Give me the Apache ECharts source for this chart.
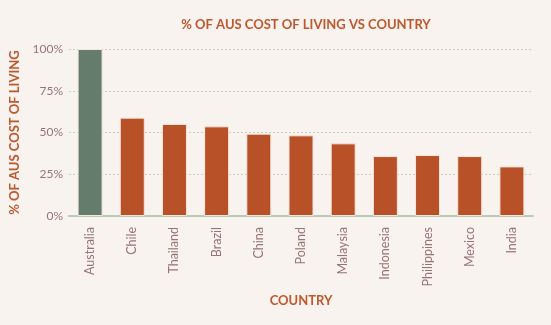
<!DOCTYPE html>
<html><head><meta charset="utf-8">
<script src="https://cdn.jsdelivr.net/npm/echarts@6/dist/echarts.min.js"></script>
<style>html,body{margin:0;padding:0;background:#f8f3ef;}#c{width:551px;height:325px;}</style>
</head><body><div id="c"></div>
<script>
const categories = ['Australia','Chile','Thailand','Brazil','China','Poland','Malaysia','Indonesia','Philippines','Mexico','India'];
const values = [100, 58.9, 55.1, 53.7, 49.3, 48.3, 43.5, 35.9, 36.5, 35.9, 29.7];
const highlight = 'Australia';
const titleText = '% OF AUS COST OF LIVING VS COUNTRY';
const yName = '% OF AUS COST OF LIVING';
const xName = 'COUNTRY';

const chart = echarts.init(document.getElementById('c'), null, {renderer:'canvas'});
const font = 'Lato';
chart.setOption({
  backgroundColor: '#f8f3ef',
  animation: false,
  title: {text: titleText, left: 301, top: 13, textAlign: 'center',
    textStyle: {fontFamily: font, fontSize: 13, fontWeight: 'bold', color: '#c0582e'}},
  grid: {left: 69, right: 18, top: 49, bottom: 109, containLabel: false},
  xAxis: {
    type: 'category', data: categories,
    name: xName, nameLocation: 'middle', nameGap: 78,
    nameTextStyle: {fontFamily: font, fontSize: 13, fontWeight: 'bold', color: '#c0582e'},
    axisLine: {lineStyle: {color: '#b9cbb5', width: 2}},
    axisTick: {show: false},
    axisLabel: {rotate: 90, margin: 11, fontFamily: font, fontSize: 12.5, color: '#9a7474'}
  },
  yAxis: {
    type: 'value', min: 0, max: 100, interval: 25,
    name: yName, nameLocation: 'middle', nameGap: 48,
    nameTextStyle: {fontFamily: font, fontSize: 13, fontWeight: 'bold', color: '#c0582e'},
    axisLine: {show: false}, axisTick: {show: false},
    axisLabel: {formatter: '{value}%', margin: 6, fontFamily: font, fontSize: 12, color: '#9a7474'},
    splitLine: {lineStyle: {type: [2, 2], color: '#c5cdbf', width: 1}}
  },
  series: [{
    type: 'bar', barWidth: 25,
    data: values.map((v, i) => ({value: v, itemStyle: {color: categories[i] === highlight ? '#637c6b' : '#b85128'}})),
    itemStyle: {borderColor: '#f6e6dc', borderWidth: 1}
  }]
});
</script></body></html>
